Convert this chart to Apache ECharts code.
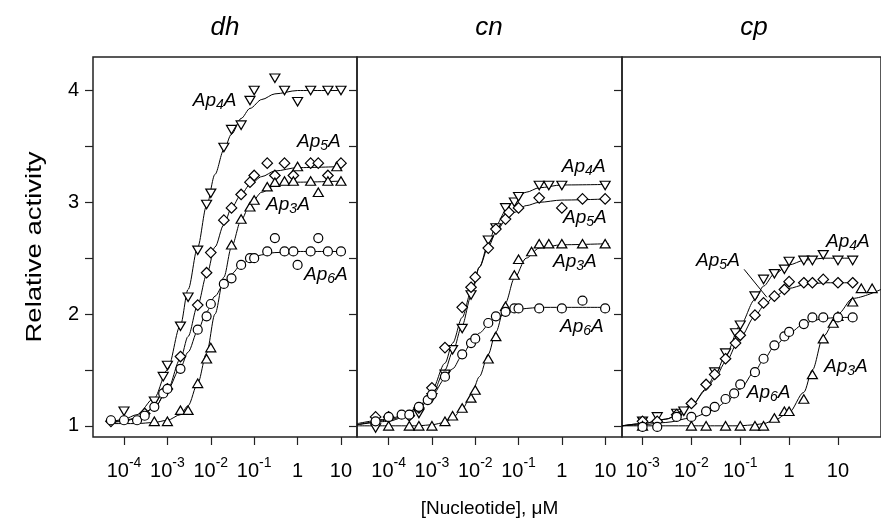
<!DOCTYPE html>
<html>
<head>
<meta charset="utf-8">
<script src="https://cdn.jsdelivr.net/npm/echarts@6/dist/echarts.min.js"></script>
<title>Relative activity vs nucleotide</title>
</head>
<body style="margin:0">
<div id="container" style="width:881px;height:530px;"></div>
<script>
var myChart = echarts.init(document.getElementById('container'));
var FONT = '"Liberation Sans", Arial, sans-serif';

// ---- data: [concentration µM, relative activity] ----
var dhAp4A = [[1e-4,1.13],[5e-4,1.22],[8e-4,1.44],[1e-3,1.54],[2e-3,1.89],[3e-3,2.15],[5e-3,2.57],[8e-3,2.98],[1e-2,3.08],[0.02,3.49],[0.03,3.65],[0.05,3.69],[0.08,3.91],[0.1,4.0],[0.3,4.11],[0.5,4.0],[1,3.9],[2,4.0],[5,4.0],[10,4.0]];
var dhAp5A = [[5e-5,1.04],[3e-4,1.11],[1e-3,1.33],[2e-3,1.62],[5e-3,2.08],[8e-3,2.37],[1e-2,2.55],[0.02,2.84],[0.03,2.95],[0.05,3.07],[0.08,3.18],[0.1,3.24],[0.2,3.35],[0.3,3.24],[0.5,3.35],[0.8,3.24],[2,3.35],[3,3.35],[5,3.24],[10,3.35]];
var dhAp3A = [[5e-4,1.04],[1e-3,1.04],[2e-3,1.14],[3e-3,1.14],[5e-3,1.38],[8e-3,1.60],[1e-2,1.70],[0.03,2.62],[0.05,2.85],[0.08,2.96],[0.1,3.02],[0.2,3.14],[0.3,3.18],[0.5,3.19],[0.8,3.19],[1,3.32],[2,3.19],[3,3.09],[5,3.19],[8,3.32],[10,3.19]];
var dhAp6A = [[5e-5,1.05],[1e-4,1.05],[2e-4,1.05],[3e-4,1.09],[5e-4,1.17],[8e-4,1.29],[1e-3,1.33],[2e-3,1.51],[5e-3,1.86],[8e-3,1.98],[1e-2,2.09],[0.02,2.27],[0.03,2.32],[0.05,2.44],[0.08,2.50],[0.1,2.50],[0.2,2.56],[0.3,2.68],[0.5,2.56],[0.8,2.56],[1,2.44],[2,2.56],[3,2.68],[5,2.56],[10,2.56]];

var cnAp4A = [[5e-5,0.98],[5e-4,1.11],[1e-3,1.25],[2e-3,1.46],[3e-3,1.68],[5e-3,1.87],[8e-3,2.17],[0.02,2.66],[0.03,2.77],[0.05,2.95],[0.08,3.0],[0.1,3.05],[0.3,3.15],[0.5,3.15],[1,3.15],[10,3.15]];
var cnAp5A = [[5e-5,1.08],[1e-4,1.08],[3e-4,1.09],[5e-4,1.16],[1e-3,1.34],[2e-3,1.70],[5e-3,2.06],[8e-3,2.24],[1e-2,2.33],[0.02,2.59],[0.03,2.76],[0.05,2.85],[0.06,2.91],[0.1,2.95],[0.3,3.04],[1,2.95],[3,3.03],[10,3.03]];
var cnAp3A = [[1e-4,1.0],[3e-4,1.0],[5e-4,1.0],[1e-3,1.0],[2e-3,1.04],[3e-3,1.09],[5e-3,1.16],[8e-3,1.25],[1e-2,1.32],[0.02,1.60],[0.03,1.80],[0.05,2.07],[0.08,2.35],[0.1,2.49],[0.2,2.56],[0.3,2.63],[0.5,2.63],[1,2.63],[3,2.63],[10,2.63]];
var cnAp6A = [[5e-5,1.04],[1e-4,1.08],[2e-4,1.10],[3e-4,1.10],[5e-4,1.17],[8e-4,1.23],[1e-3,1.28],[2e-3,1.44],[5e-3,1.64],[8e-3,1.74],[1e-2,1.78],[0.02,1.92],[0.03,1.98],[0.05,2.02],[0.08,2.05],[0.1,2.05],[0.3,2.05],[1,2.05],[3,2.12],[10,2.05]];

var cpAp4A = [[1e-3,1.04],[2e-3,1.08],[5e-3,1.11],[7e-3,1.13],[0.03,1.48],[0.05,1.65],[0.08,1.83],[0.1,1.90],[0.2,2.16],[0.3,2.31],[0.5,2.36],[0.8,2.40],[1,2.47],[2,2.48],[3,2.48],[5,2.53],[10,2.48],[20,2.48]];
var cpAp5A = [[1e-3,1.04],[2e-3,1.04],[5e-3,1.10],[1e-2,1.20],[0.02,1.37],[0.03,1.46],[0.05,1.60],[0.08,1.74],[0.1,1.81],[0.2,1.99],[0.3,2.10],[0.5,2.16],[0.8,2.22],[1,2.29],[2,2.28],[3,2.28],[5,2.31],[10,2.28],[20,2.28]];
var cpAp3A = [[1e-3,1.0],[1e-2,1.0],[0.02,1.0],[0.05,1.0],[0.1,1.0],[0.2,1.0],[0.3,1.0],[0.5,1.07],[0.8,1.13],[1,1.13],[2,1.24],[3,1.46],[5,1.78],[8,1.92],[10,1.98],[20,2.11],[30,2.23],[50,2.23]];
var cpAp6A = [[1e-3,0.99],[2e-3,0.99],[5e-3,1.08],[1e-2,1.08],[0.02,1.13],[0.03,1.17],[0.05,1.24],[0.075,1.29],[0.1,1.37],[0.2,1.48],[0.3,1.60],[0.5,1.72],[0.8,1.80],[1,1.84],[2,1.91],[3,1.97],[5,1.97],[10,1.97],[20,1.97]];

// ---- fitted curves ----
var dhFitConc = [5e-5, 1e-4, 2e-4, 5e-4, 1e-3, 2e-3, 3e-3, 5e-3, 8e-3, 0.0125, 0.02, 0.03, 0.05, 0.08, 0.15, 0.3, 1, 11];
var dhFitAp4A = [1.03, 1.06, 1.10, 1.25, 1.50, 1.90, 2.22, 2.60, 2.97, 3.25, 3.47, 3.61, 3.75, 3.84, 3.92, 3.97, 4.00, 4.00];
var dhFitAp5A = [1.03, 1.04, 1.07, 1.16, 1.32, 1.60, 1.80, 2.08, 2.35, 2.60, 2.80, 2.95, 3.07, 3.16, 3.23, 3.28, 3.31, 3.32];
var dhFitAp3A = [1.02, 1.02, 1.02, 1.03, 1.05, 1.10, 1.18, 1.38, 1.65, 2.00, 2.33, 2.60, 2.84, 2.98, 3.09, 3.15, 3.18, 3.19];
var dhFitAp6A = [1.03, 1.05, 1.07, 1.16, 1.32, 1.52, 1.66, 1.85, 2.02, 2.16, 2.27, 2.36, 2.44, 2.49, 2.53, 2.55, 2.56, 2.56];

var cnFitConc = [1.9e-5, 1e-4, 2e-4, 5e-4, 1e-3, 2e-3, 3e-3, 5e-3, 8e-3, 0.0125, 0.02, 0.03, 0.05, 0.08, 0.15, 0.3, 1, 12];
var cnFitAp4A = [1.01, 1.04, 1.07, 1.15, 1.28, 1.50, 1.66, 1.90, 2.16, 2.42, 2.63, 2.79, 2.92, 3.02, 3.09, 3.13, 3.155, 3.16];
var cnFitAp5A = [1.01, 1.05, 1.08, 1.17, 1.32, 1.56, 1.74, 1.97, 2.20, 2.42, 2.60, 2.73, 2.84, 2.91, 2.97, 3.00, 3.02, 3.03];
var cnFitAp3A = [1.00, 1.00, 1.00, 1.00, 1.01, 1.03, 1.07, 1.15, 1.27, 1.44, 1.64, 1.84, 2.10, 2.32, 2.50, 2.59, 2.62, 2.63];
var cnFitAp6A = [1.02, 1.06, 1.09, 1.16, 1.27, 1.42, 1.51, 1.63, 1.74, 1.83, 1.90, 1.96, 2.00, 2.03, 2.05, 2.06, 2.06, 2.06];

var cpFitConc = [3.8e-4, 1e-3, 3e-3, 1e-2, 0.02, 0.03, 0.05, 0.1, 0.2, 0.3, 0.5, 1, 2, 3, 5, 10, 20, 76];
var cpFitAp4A = [1.00, 1.02, 1.06, 1.18, 1.33, 1.45, 1.63, 1.90, 2.13, 2.25, 2.36, 2.44, 2.48, 2.49, 2.50, 2.50, 2.50, null];
var cpFitAp5A = [1.00, 1.02, 1.06, 1.18, 1.32, 1.42, 1.57, 1.79, 1.98, 2.07, 2.16, 2.23, 2.26, 2.27, 2.28, 2.28, 2.28, null];
var cpFitAp3A = [1.00, 1.00, 1.00, 1.00, 1.00, 1.00, 1.00, 1.00, 1.01, 1.02, 1.05, 1.12, 1.30, 1.50, 1.80, 2.00, 2.14, 2.22];
var cpFitAp6A = [1.00, 1.01, 1.03, 1.07, 1.11, 1.15, 1.21, 1.33, 1.49, 1.59, 1.71, 1.83, 1.91, 1.94, 1.96, 1.97, 1.97, null];

// ---- axes: ranges and tick labels ----
var dhRange = [1.93e-5, 23.4];
var cnRange = [1.86e-5, 24.5];
var cpRange = [3.8e-4, 76];
var dhTicks = [1e-4, 1e-3, 1e-2, 0.1, 1, 10];
var cnTicks = [1e-4, 1e-3, 1e-2, 0.1, 1, 10];
var cpTicks = [1e-3, 1e-2, 0.1, 1, 10];
var yRange = [0.9, 4.3];
var yTicks = [1, 1.5, 2, 2.5, 3, 3.5, 4];
var yLabels = [1, 2, 3, 4];

// ---- annotations [subscript, conc, activity] ----
var dhNotes = [['4', 0.0123, 3.91], ['5', 3.1, 3.54], ['3', 0.6, 2.98], ['6', 4.5, 2.35]];
var cnNotes = [['4', 3.2, 3.32], ['5', 3.4, 2.86], ['3', 2.0, 2.47], ['6', 2.9, 1.89]];
var cpNotes = [['4', 16, 2.65], ['5', 0.035, 2.48], ['3', 14.5, 1.53], ['6', 0.38, 1.30]];
var cpLeader = [[0.12, 2.40], [0.35, 2.15]];

var panels = [
    { title: 'dh', left: 93, width: 264, range: dhRange, ticks: dhTicks, notes: dhNotes,
      pts: [dhAp4A, dhAp5A, dhAp3A, dhAp6A], fitConc: dhFitConc, fits: [dhFitAp4A, dhFitAp5A, dhFitAp3A, dhFitAp6A] },
    { title: 'cn', left: 357, width: 265, range: cnRange, ticks: cnTicks, notes: cnNotes,
      pts: [cnAp4A, cnAp5A, cnAp3A, cnAp6A], fitConc: cnFitConc, fits: [cnFitAp4A, cnFitAp5A, cnFitAp3A, cnFitAp6A] },
    { title: 'cp', left: 622, width: 262, range: cpRange, ticks: cpTicks, notes: cpNotes,
      pts: [cpAp4A, cpAp5A, cpAp3A, cpAp6A], fitConc: cpFitConc, fits: [cpFitAp4A, cpFitAp5A, cpFitAp3A, cpFitAp6A] }
];

// 标记样式: Ap4A 倒三角, Ap5A 菱形, Ap3A 三角, Ap6A 圆
var markers = [
    { symbol: 'triangle', rotate: 180, size: [10, 8.5] },
    { symbol: 'diamond', rotate: 0, size: [10.5, 10.5] },
    { symbol: 'triangle', rotate: 0, size: [10, 8.5] },
    { symbol: 'circle', rotate: 0, size: 9 }
];

var tickLabelRich = {
    b: { fontSize: 20, padding: [5, 0, 0, 0], verticalAlign: 'bottom', color: '#000', fontFamily: FONT },
    s: { fontSize: 14, padding: [0, 0, 10, 0], verticalAlign: 'top', color: '#000', fontFamily: FONT }
};
var noteRich = {
    i: { fontSize: 19, fontStyle: 'italic', color: '#000', opacity: 1, fontFamily: FONT },
    s: { fontSize: 14, fontStyle: 'italic', color: '#000', opacity: 1, fontFamily: FONT, padding: [9, 0, 0, 0], verticalAlign: 'bottom' }
};

var grids = [], xAxes = [], yAxes = [], series = [], graphics = [];

panels.forEach(function (p, g) {
    grids.push({ left: p.left, width: p.width, top: 57, height: 380, show: true,
        borderColor: '#222', borderWidth: 1.5, backgroundColor: 'transparent' });

    // 数据用对数轴 (隐藏)
    xAxes.push({ type: 'log', logBase: 10, gridIndex: g, min: p.range[0], max: p.range[1],
        position: 'top', show: false, axisLine: { onZero: false } });
    // 刻度与标签用的轴
    xAxes.push({
        type: 'value', gridIndex: g, position: 'bottom',
        min: Math.log10(p.range[0]), max: Math.log10(p.range[1]),
        axisLine: { show: false, onZero: false },
        splitLine: { show: false },
        axisTick: { show: true, length: 8, customValues: p.ticks.map(Math.log10),
            lineStyle: { color: '#222', width: 1.2 } },
        axisLabel: {
            customValues: p.ticks.map(Math.log10), margin: 19, rich: tickLabelRich,
            formatter: function (v) {
                var e = Math.round(v);
                if (e === 0) return '{b|1}';
                if (e === 1) return '{b|10}';
                return '{b|10}{s|' + e + '}';
            }
        },
        name: g === 1 ? '[Nucleotide], \u03bcM' : '',
        nameLocation: 'middle', nameGap: 62,
        nameTextStyle: { fontSize: 19, color: '#000', fontFamily: FONT }
    });

    yAxes.push({
        type: 'value', gridIndex: g, position: 'left', min: yRange[0], max: yRange[1],
        axisLine: { show: false, onZero: false }, splitLine: { show: false },
        axisTick: { show: g === 0, length: 8, customValues: yTicks, lineStyle: { color: '#222', width: 1.2 } },
        axisLabel: { show: g === 0, customValues: yLabels, margin: 14, fontSize: 20, color: '#000', fontFamily: FONT }
    });
    yAxes.push({
        type: 'value', gridIndex: g, position: 'right', min: yRange[0], max: yRange[1],
        axisLine: { show: false, onZero: false }, splitLine: { show: false },
        axisTick: { show: g < 2, inside: true, length: 8, customValues: yTicks, lineStyle: { color: '#222', width: 1.2 } },
        axisLabel: { show: false }
    });

    // 拟合曲线
    p.fits.forEach(function (vals) {
        series.push({
            type: 'line', xAxisIndex: 2 * g, yAxisIndex: 2 * g, showSymbol: false, symbol: 'none',
            smooth: 0.3, smoothMonotone: 'x', silent: true, z: 2,
            lineStyle: { color: '#000', width: 1 },
            data: p.fitConc.map(function (c, i) { return [c, vals[i]]; })
        });
    });

    // 数据点
    p.pts.forEach(function (d, k) {
        var m = markers[k];
        series.push({
            type: 'scatter', xAxisIndex: 2 * g, yAxisIndex: 2 * g, z: 3,
            symbol: m.symbol, symbolRotate: m.rotate, symbolSize: m.size,
            itemStyle: { color: '#fff', borderColor: '#000', borderWidth: 1.2, opacity: 1 },
            data: d
        });
    });

    // 标注文字
    series.push({
        type: 'scatter', xAxisIndex: 2 * g, yAxisIndex: 2 * g, z: 4, silent: true,
        symbolSize: 1, itemStyle: { color: '#fff', opacity: 1 },
        label: {
            show: true, position: 'inside', color: '#000', opacity: 1, textBorderWidth: 0, rich: noteRich,
            formatter: function (prm) { return '{i|Ap}{s|' + prm.data.sub + '}{i|A}'; }
        },
        data: p.notes.map(function (n) { return { value: [n[1], n[2]], sub: n[0] }; })
    });

    graphics.push({
        type: 'text', x: p.left + 132, y: 28,
        style: { text: p.title, font: 'italic 26px ' + FONT, fill: '#000',
            align: 'center', verticalAlign: 'middle', textAlign: 'center', textVerticalAlign: 'middle' }
    });
});

// 纵轴标题 (原图中沿竖直方向略有拉伸)
graphics.push({
    type: 'text', x: 35, y: 247, rotation: Math.PI / 2, scaleX: 1.25,
    style: { text: 'Relative activity', font: '22px ' + FONT, fill: '#000',
        align: 'center', verticalAlign: 'middle', textAlign: 'center', textVerticalAlign: 'middle' }
});

// cp 面板 Ap5A 的引线
series.push({
    type: 'line', xAxisIndex: 4, yAxisIndex: 4, symbol: 'none', silent: true, z: 2,
    lineStyle: { color: '#000', width: 1 }, data: cpLeader
});

var option = {
    animation: false,
    backgroundColor: '#fff',
    textStyle: { fontFamily: FONT },
    grid: grids,
    xAxis: xAxes,
    yAxis: yAxes,
    series: series,
    graphic: graphics
};

myChart.setOption(option);
</script>
</body>
</html>
